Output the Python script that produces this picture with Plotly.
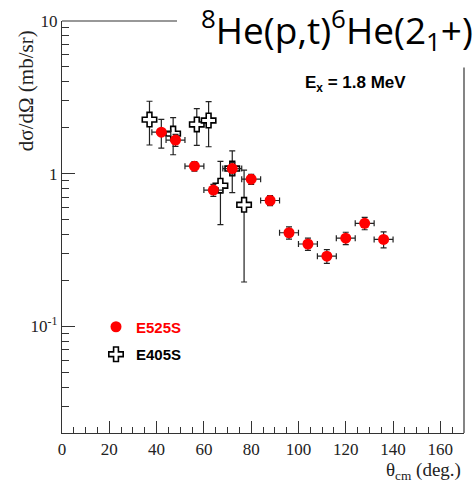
import plotly.graph_objects as go

# E525S measurement: angle, cross section, angular bin half-width, uncertainty
e525_theta = [42, 48, 56, 64, 72, 80, 88, 96, 104, 112, 120, 128, 136]
e525_xs = [1.87, 1.66, 1.12, 0.78, 1.08, 0.92, 0.667, 0.41, 0.346, 0.288, 0.378, 0.473, 0.371]
e525_dtheta = [4] * 13
e525_err = [0.40, 0.15, 0.08, 0.07, 0.10, 0.07, 0.05, 0.038, 0.032, 0.03, 0.035, 0.044, 0.045]

# E405S measurement
e405_theta = [37, 47, 57, 62, 67, 72, 77]
e405_xs = [2.26, 1.83, 2.10, 2.23, 0.834, 1.08, 0.625]
e405_err = [0.72, 0.50, 0.57, 0.73, 0.37, 0.33, 0.43]

x_ticks = list(range(0, 161, 20))
y_ticks = [0.1, 1, 10]
y_ticktext = ["10<sup>-1</sup>", "1", "10"]
y_minor = [m * d for d in (0.01, 0.1, 1) for m in range(2, 10) if m * d >= 0.02]

W, H = 476, 484
L, R, T, B = 62, 12, 16, 51
pw, ph = W - L - R, H - T - B


def px_x(p):
    return (p - L) / pw


def px_y(p):
    return (H - B - p) / ph


serif = "Liberation Serif, Times New Roman, serif"
sans = "Liberation Sans, Arial, sans-serif"
axis_col = "#333333"

fig = go.Figure()

fig.add_trace(go.Scatter(
    x=e405_theta, y=e405_xs, mode="markers", name="<b>E405S</b>",
    legendrank=2, legendgroup="e405",
    marker=dict(symbol="cross", size=12, color="white",
                line=dict(color="black", width=1.6)),
    error_y=dict(type="data", array=e405_err, color="#222", thickness=1.2, width=3),
))

fig.add_trace(go.Scatter(
    x=e525_theta, y=e525_xs, mode="markers",
    name="<span style='color:#ff0000'><b>E525S</b></span>",
    legendrank=1, legendgroup="e525",
    marker=dict(symbol="circle", size=11, color="#ff0000", line=dict(width=0)),
    error_x=dict(type="data", array=e525_dtheta, color="#222", thickness=1.2, width=3),
    error_y=dict(type="data", array=e525_err, color="#222", thickness=1.2, width=3),
))

fig.update_layout(
    width=W, height=H,
    margin=dict(l=L, r=R, t=T, b=B),
    plot_bgcolor="white", paper_bgcolor="white",
    showlegend=True,
    legend=dict(x=px_x(96), y=px_y(309), xanchor="left", yanchor="top",
                font=dict(family=sans, size=15, color="black"),
                bgcolor="rgba(0,0,0,0)", tracegroupgap=5,
                traceorder="grouped", itemwidth=30),
    xaxis=dict(range=[0, 170], tickvals=x_ticks, ticks="inside", ticklen=12,
               tickcolor=axis_col, tickwidth=1.2,
               showline=True, linecolor=axis_col, linewidth=1.2,
               showgrid=False, zeroline=False,
               tickfont=dict(family=serif, size=17, color="#222"),
               minor=dict(dtick=5, ticks="inside", ticklen=6, tickcolor=axis_col,
                          tickwidth=1.2, showgrid=False)),
    yaxis=dict(type="log", range=[-1.699, 1], tickvals=y_ticks, ticktext=y_ticktext,
               ticks="inside", ticklen=13, tickcolor=axis_col, tickwidth=1.2,
               showline=True, linecolor=axis_col, linewidth=1.2,
               showgrid=False, zeroline=False,
               tickfont=dict(family=serif, size=17, color="#222"),
               minor=dict(tickvals=y_minor, ticks="inside", ticklen=7,
                          tickcolor=axis_col, tickwidth=1.2, showgrid=False)),
)

# frame: partial top and right borders
fig.add_shape(type="line", xref="paper", yref="paper", x0=0, x1=px_x(177), y0=1, y1=1,
              line=dict(color=axis_col, width=1.2))
fig.add_shape(type="line", xref="paper", yref="paper", x0=1, x1=1, y0=0, y1=px_y(63),
              line=dict(color=axis_col, width=1.2))

# axis titles
fig.add_annotation(text="dσ/dΩ (mb/sr)", xref="paper", yref="paper",
                   x=px_x(26), y=px_y(87), textangle=-90, showarrow=False,
                   xanchor="center", yanchor="middle",
                   font=dict(family=serif, size=21, color="#222"))
fig.add_annotation(text="θ<sub>cm</sub> (deg.)", xref="paper", yref="paper",
                   x=px_x(463), y=px_y(471), showarrow=False,
                   xanchor="right", yanchor="middle",
                   font=dict(family=serif, size=19, color="#222"))

fig.add_annotation(text="<b>E<sub>x</sub> = 1.8 MeV</b>", xref="paper", yref="paper",
                   x=px_x(303), y=px_y(80), showarrow=False,
                   xanchor="left", yanchor="middle",
                   font=dict(family=sans, size=17, color="black"))

fig.add_annotation(text="<sup>8</sup>He(p,t)<sup>6</sup>He(2<sub>1</sub>+)",
                   xref="paper", yref="paper",
                   x=px_x(475), y=px_y(25), showarrow=False,
                   xanchor="right", yanchor="middle",
                   font=dict(family="Open Sans, sans-serif", size=37, color="black"))

fig.write_html("out.html")
